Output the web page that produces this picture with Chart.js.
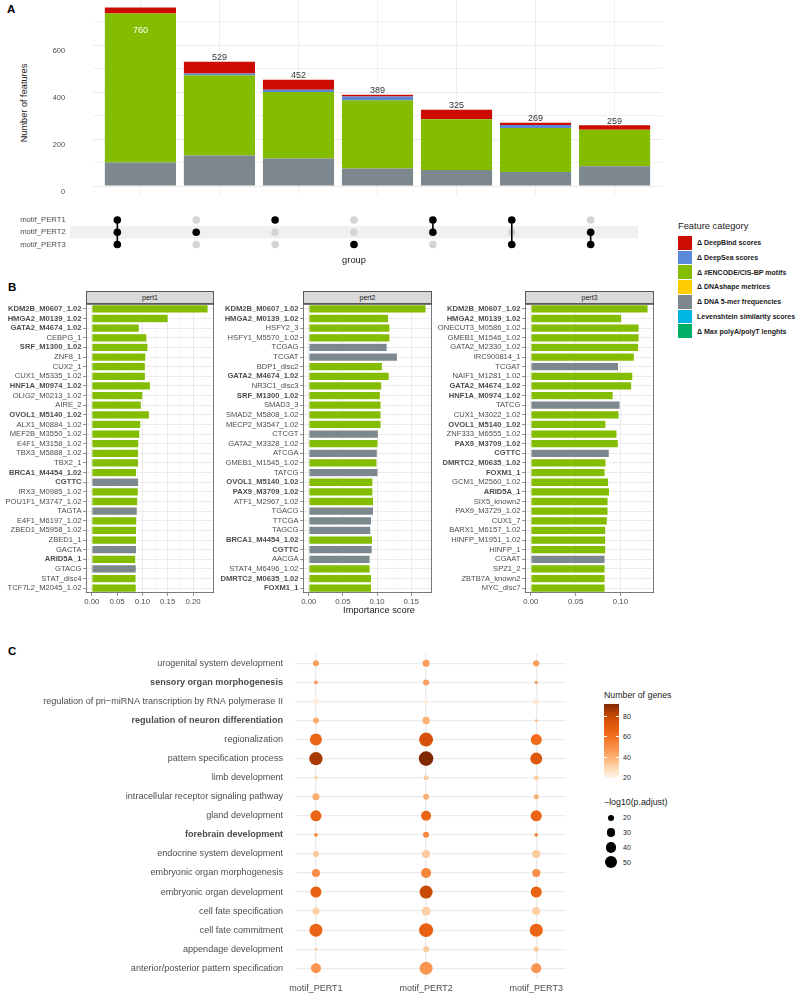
<!DOCTYPE html>
<html><head><meta charset="utf-8">
<script src="https://cdn.jsdelivr.net/npm/chart.js@4"></script>
<style>
body{margin:0;background:#fff;width:798px;height:995px;position:relative;overflow:hidden;font-family:"Liberation Sans",Arial,Helvetica,sans-serif;}
canvas{position:absolute;}
.t{position:absolute;white-space:nowrap;line-height:1;}
.strip{position:absolute;height:13px;background:#d9d9d9;border:0.8px solid #595959;box-sizing:border-box;font-size:7px;color:#1a1a1a;text-align:center;line-height:12px;}
</style></head><body>

<div class="t" style="left:7px;top:4px;font-size:11.5px;font-weight:bold;color:#000">A</div>
<div class="t" style="left:8px;top:282px;font-size:11.5px;font-weight:bold;color:#000">B</div>
<div class="t" style="left:8px;top:646px;font-size:11.5px;font-weight:bold;color:#000">C</div>

<div class="t" style="left:25px;top:102.5px;font-size:9.2px;color:#1a1a1a;transform:translate(-50%,-50%) rotate(-90deg);">Number of features</div>

<canvas id="cA" width="670" height="204" style="left:0;top:-4px"></canvas>
<canvas id="cM" width="660" height="62" style="left:0;top:206px"></canvas>
<div id="legA"></div>

<div class="strip" style="left:86px;top:291px;width:128px;">pert1</div>
<div class="strip" style="left:303px;top:291px;width:129px;">pert2</div>
<div class="strip" style="left:525px;top:291px;width:129px;">pert3</div>
<canvas id="cB1" width="220" height="310" style="left:0;top:298px"></canvas>
<canvas id="cB2" width="222" height="310" style="left:216px;top:298px"></canvas>
<canvas id="cB3" width="224" height="310" style="left:436px;top:298px"></canvas>
<div class="t" style="left:379px;top:611px;font-size:9.3px;color:#1a1a1a;transform:translate(-50%,-50%);">Importance score</div>

<canvas id="cC" width="580" height="355" style="left:0;top:640px"></canvas>
<div id="legC"></div>

<script>
// ---------------- DATA ----------------
// Panel A: intersections of feature sets
const setNames = ['motif_PERT1', 'motif_PERT2', 'motif_PERT3'];
const intersectionIds = [1, 2, 3, 4, 5, 6, 7];
const membership = [[1,1,1],[0,1,0],[1,0,0],[0,0,1],[1,1,0],[1,0,1],[0,1,1]];
const intersectionTotals = [760, 529, 452, 389, 325, 269, 259];
const featureCategories = ['Δ DeepBind scores','Δ DeepSea scores','Δ #ENCODE/CIS-BP motifs','Δ DNAshape metrices','Δ DNA 5-mer frequencies','Levenshtein similarity scores','Δ Max polyA/polyT lenghts'];
const categoryColors = ['#CC0C00','#5C88DA','#84BD00','#FFCD00','#7C878E','#00B5E2','#00AF66'];
const deepBind    = [26, 50, 42, 8, 41, 9, 19];
const deepSea     = [0, 7, 10, 16, 0, 13, 0];
const encodeMotif = [634, 342, 283, 290, 216, 187, 156];
const dnaShape    = [0, 0, 0, 0, 0, 0, 0];
const kmerFreq    = [100, 130, 117, 75, 66, 60, 84];
const levenshtein = [0, 0, 0, 0, 2, 0, 0];
const polyAT      = [0, 0, 0, 0, 0, 0, 0];
const yTicksA = [0, 100, 200, 300, 400, 500, 600, 700];

// Panel B: importance scores (E = ENCODE/CIS-BP motif, K = DNA 5-mer)
const pert1Labels = ['KDM2B_M0607_1.02','HMGA2_M0139_1.02','GATA2_M4674_1.02','CEBPG_1','SRF_M1300_1.02','ZNF8_1','CUX2_1','CUX1_M5335_1.02','HNF1A_M0974_1.02','OLIG2_M0213_1.02','AIRE_2','OVOL1_M5140_1.02','ALX1_M0884_1.02','MEF2B_M3550_1.02','E4F1_M3158_1.02','TBX3_M5888_1.02','TBX2_1','BRCA1_M4454_1.02','CGTTC','IRX3_M0985_1.02','POU1F1_M3747_1.02','TAGTA','E4F1_M6197_1.02','ZBED1_M5958_1.02','ZBED1_1','GACTA','ARID5A_1','GTACG','STAT_disc4','TCF7L2_M2045_1.02'];
const pert1Scores = [0.230,0.151,0.094,0.109,0.111,0.107,0.106,0.106,0.116,0.101,0.098,0.114,0.097,0.095,0.093,0.0925,0.0925,0.0885,0.0925,0.092,0.091,0.090,0.089,0.0885,0.0885,0.0885,0.087,0.088,0.0875,0.088];
const pert1Kinds  = ['E','E','E','E','E','E','E','E','E','E','E','E','E','E','E','E','E','E','K','E','E','K','E','E','E','K','E','K','E','E'];

const pert2Labels = ['KDM2B_M0607_1.02','HMGA2_M0139_1.02','HSFY2_3','HSFY1_M5570_1.02','TCGAG','TCGAT','BDP1_disc2','GATA2_M4674_1.02','NR3C1_disc3','SRF_M1300_1.02','SMAD3_3','SMAD2_M5808_1.02','MECP2_M3547_1.02','CTCGT','GATA2_M3328_1.02','ATCGA','GMEB1_M1545_1.02','TATCG','OVOL1_M5140_1.02','PAX9_M3709_1.02','ATF1_M2967_1.02','TGACG','TTCGA','TAGCG','BRCA1_M4454_1.02','CGTTC','AACGA','STAT4_M6496_1.02','DMRTC2_M0635_1.02','FOXM1_1'];
const pert2Scores = [0.172,0.117,0.119,0.119,0.115,0.130,0.108,0.118,0.107,0.105,0.106,0.106,0.106,0.102,0.1015,0.1005,0.100,0.1015,0.094,0.094,0.095,0.095,0.092,0.091,0.0935,0.093,0.090,0.090,0.092,0.092];
const pert2Kinds  = ['E','E','E','E','K','K','E','E','E','E','E','E','E','K','E','K','E','K','E','E','E','K','K','K','E','K','K','E','E','E'];

const pert3Labels = ['KDM2B_M0607_1.02','HMGA2_M0139_1.02','ONECUT3_M0586_1.02','GMEB1_M1546_1.02','GATA2_M2330_1.02','IRC900814_1','TCGAT','NAIF1_M1281_1.02','GATA2_M4674_1.02','HNF1A_M0974_1.02','TATCG','CUX1_M3022_1.02','OVOL1_M5140_1.02','ZNF333_M6555_1.02','PAX9_M3709_1.02','CGTTC','DMRTC2_M0635_1.02','FOXM1_1','GCM1_M2560_1.02','ARID5A_1','SIX5_known2','PAX9_M3729_1.02','CUX1_7','BARX1_M6157_1.02','HINFP_M1951_1.02','HINFP_1','CGAAT','SPZ1_2','ZBTB7A_known2','MYC_disc7'];
const pert3Scores = [0.131,0.1016,0.121,0.121,0.1205,0.1157,0.098,0.114,0.1127,0.092,0.0997,0.0986,0.084,0.0963,0.0978,0.0877,0.084,0.083,0.087,0.088,0.0863,0.0863,0.0855,0.0837,0.0837,0.0837,0.083,0.083,0.083,0.083];
const pert3Kinds  = ['E','E','E','E','E','E','K','E','E','E','K','E','E','E','E','K','E','E','E','E','E','E','E','E','E','E','K','E','E','E'];

const sharedFeatures = ['KDM2B_M0607_1.02','HMGA2_M0139_1.02','GATA2_M4674_1.02','SRF_M1300_1.02','HNF1A_M0974_1.02','OVOL1_M5140_1.02','BRCA1_M4454_1.02','CGTTC','ARID5A_1','PAX9_M3709_1.02','DMRTC2_M0635_1.02','FOXM1_1'];
const importanceTicks = [0, 0.025, 0.05, 0.075, 0.1, 0.125, 0.15, 0.175, 0.2, 0.225];

// Panel C: GO enrichment
const goTerms = ['urogenital system development','sensory organ morphogenesis','regulation of pri−miRNA transcription by RNA polymerase II','regulation of neuron differentiation','regionalization','pattern specification process','limb development','intracellular receptor signaling pathway','gland development','forebrain development','endocrine system development','embryonic organ morphogenesis','embryonic organ development','cell fate specification','cell fate commitment','appendage development','anterior/posterior pattern specification'];
const boldTerms = ['sensory organ morphogenesis','regulation of neuron differentiation','forebrain development'];
const genesPERT1 = [45,45,22,40,65,85,32,40,65,52,33,50,67,32,65,33,48];
const genesPERT2 = [45,45,22,40,75,91,32,40,65,52,33,53,80,32,67,33,48];
const genesPERT3 = [45,45,23,40,62,72,32,40,65,52,33,50,66,32,65,33,48];
const logPadjPERT1 = [20,14,20,20,50,60,13,24,44,14,20,28,44,24,57,12,38];
const logPadjPERT2 = [24,20,17,25,64,69,17,20,38,20,28,38,57,32,64,20,57];
const logPadjPERT3 = [21,13,20,12,44,50,17,17,44,14,28,28,44,28,57,17,38];
const geneColorTicks = [20, 40, 60, 80];
const geneColorLimits = [20, 91.5];
const sizeBreaks = [20, 30, 40, 50];

// ---------------- HELPERS ----------------
const SANS = '"Liberation Sans", Arial, Helvetica, sans-serif';
Chart.defaults.font.family = SANS;
Chart.defaults.animation = false;
Chart.defaults.responsive = false;
Chart.defaults.events = [];
Chart.defaults.plugins.legend.display = false;
Chart.defaults.plugins.tooltip.enabled = false;
const CLEAR = 'rgba(0,0,0,0)';

const gradStops = [[20,[255,245,235]],[30,[253,215,176]],[40,[251,176,114]],[50,[249,142,72]],[60,[242,112,32]],[70,[227,90,11]],[80,[200,74,6]],[91.5,[127,39,4]]];
function colorFor(v){
  if (v <= gradStops[0][0]) return 'rgb('+gradStops[0][1].join(',')+')';
  for (let i=1;i<gradStops.length;i++){
    if (v <= gradStops[i][0]){
      const [a,ca]=gradStops[i-1],[b,cb]=gradStops[i];
      const f=(v-a)/(b-a);
      return 'rgb('+ca.map((c,k)=>Math.round(c+(cb[k]-c)*f)).join(',')+')';
    }
  }
  return 'rgb('+gradStops[gradStops.length-1][1].join(',')+')';
}
function sizeFor(v){ return Math.sqrt(Math.max(1, 0.9*v - 9)); }

// ---------------- PANEL A: stacked bars ----------------
const seriesByCat = [deepBind, deepSea, encodeMotif, dnaShape, kmerFreq, levenshtein, polyAT];
const stackOrder = [6,5,4,3,2,1,0];
const totalsPlugin = {
  id:'totals',
  afterDatasetsDraw(chart){
    const {ctx, scales:{x,y}, chartArea} = chart;
    ctx.save();
    ctx.font = '9px ' + SANS;
    ctx.textAlign = 'center';
    intersectionTotals.forEach((t,i)=>{
      const px = x.getPixelForValue(intersectionIds[i]);
      const py = y.getPixelForValue(t);
      if (py - 12 < chartArea.top){
        ctx.fillStyle = '#ffffff'; ctx.textBaseline = 'middle';
        ctx.fillText(String(t), px, py + 23);
      } else {
        ctx.fillStyle = '#333333'; ctx.textBaseline = 'alphabetic';
        ctx.fillText(String(t), px, py - 1.5);
      }
    });
    ctx.restore();
  }
};
new Chart(document.getElementById('cA'), {
  type:'bar',
  data:{datasets: stackOrder.map(k => ({
    label: featureCategories[k],
    data: seriesByCat[k].map((v,i)=>({x: intersectionIds[i], y: v})),
    backgroundColor: categoryColors[k], borderWidth:0, barPercentage:0.9, categoryPercentage:1
  }))},
  options:{
    layout:{padding:{top:0,right:8,bottom:0,left:0}},
    scales:{
      x:{type:'linear', stacked:true, offset:false, min:0.4, max:7.6,
         afterBuildTicks:s=>{s.ticks = intersectionIds.map(v=>({value:v}));},
         ticks:{display:false}, grid:{offset:false, color:'#efefef', lineWidth:1, drawTicks:false}, border:{display:false},
         afterFit:s=>{s.height=5;}},
      y:{type:'linear', stacked:true, min:-38, max:790,
         afterBuildTicks:s=>{s.ticks = yTicksA.map(v=>({value:v}));},
         ticks:{callback:v=> (v%200===0 ? String(v) : ''), padding:0, labelOffset:6, font:{size:7.4}, color:'#4d4d4d'},
         grid:{color:'#ebebeb', lineWidth:c=> (c.tick && c.tick.value%200===0 ? 1.1 : 0.7), drawTicks:true, tickLength:28, tickColor:CLEAR},
         border:{display:false},
         afterFit:s=>{s.width=93;}}
    }
  },
  plugins:[totalsPlugin]
});

// ---------------- PANEL A: matrix ----------------
const bandPlugin = {
  id:'band',
  beforeDatasetsDraw(chart){
    const {ctx, scales:{y}, chartArea:a} = chart;
    ctx.save(); ctx.fillStyle = '#f0f0f0';
    const y0 = y.getPixelForValue(1.5), y1 = y.getPixelForValue(2.5);
    ctx.fillRect(a.left, Math.min(y0,y1), a.right-a.left, Math.abs(y1-y0));
    ctx.restore();
  }
};
const mDatasets = [];
const blackPts = [], greyPts = [];
membership.forEach((m,i)=>{
  m.forEach((on,r)=>{ (on ? blackPts : greyPts).push({x: intersectionIds[i], y: r+1}); });
  const rows = m.map((on,r)=> on ? r+1 : null).filter(v=>v!==null);
  if (rows.length > 1){
    mDatasets.push({type:'line', data:[{x:intersectionIds[i], y:Math.min(...rows)},{x:intersectionIds[i], y:Math.max(...rows)}],
      borderColor:'#000', borderWidth:1.6, pointRadius:0, order:1, showLine:true});
  }
});
mDatasets.push({data:blackPts, backgroundColor:'#000', pointRadius:3.8, borderWidth:0, order:0});
mDatasets.push({data:greyPts, backgroundColor:'#d4d4d4', pointRadius:3.8, borderWidth:0, order:2});
new Chart(document.getElementById('cM'), {
  type:'scatter',
  data:{datasets:mDatasets},
  options:{
    layout:{padding:{top:7.8,right:22,bottom:0,left:0}},
    scales:{
      x:{type:'linear', min:0.4, max:7.6, afterBuildTicks:s=>{s.ticks = intersectionIds.map(v=>({value:v}));},
         ticks:{display:false}, grid:{display:false}, border:{display:false},
         title:{display:true, text:'group', font:{size:9.3}, color:'#1a1a1a', padding:{top:0,bottom:2.4}},
         afterFit:s=>{s.height=17.3;}},
      y:{type:'linear', reverse:true, min:0.5, max:3.5, afterBuildTicks:s=>{s.ticks=[1,2,3].map(v=>({value:v}));},
         ticks:{callback:v=>setNames[v-1], font:{size:7.7}, color:'#4d4d4d', padding:0},
         grid:{display:true, color:CLEAR, drawTicks:true, tickLength:4.3, tickColor:CLEAR}, border:{display:false}, afterFit:s=>{s.width=70;}}
    }
  },
  plugins:[bandPlugin]
});

// legend A
(function(){
  const L = document.getElementById('legA');
  let h = '<div class="t" style="left:678px;top:221.5px;font-size:9.3px;color:#1a1a1a">Feature category</div>';
  featureCategories.forEach((c,i)=>{
    const top = 235.8 + i*14.75;
    h += '<div style="position:absolute;left:678px;top:'+top+'px;width:14px;height:13.8px;background:'+categoryColors[i]+'"></div>';
    h += '<div class="t" style="left:697px;top:'+(top+3.3)+'px;font-size:7px;font-weight:bold;color:#1a1a1a">'+c+'</div>';
  });
  L.innerHTML = h;
})();

// ---------------- PANEL B ----------------
const panelBorder = {id:'pb', afterDraw(chart){
  const {ctx, chartArea:a} = chart;
  ctx.save(); ctx.strokeStyle='#595959'; ctx.lineWidth=0.8;
  ctx.strokeRect(a.left+0.4, a.top+0.4, a.right-a.left-0.8, a.bottom-a.top-0.8); ctx.restore();
}};
const isMajor = v => Math.abs(Math.round(v/0.05)*0.05 - v) < 1e-6;
function importanceChart(id, labels, values, kinds, axisW, padRight){
  const vmax = Math.max(...values);
  const lo = -0.05*vmax, hi = 1.05*vmax;
  const tv = importanceTicks.filter(v => v <= hi);
  return new Chart(document.getElementById(id), {
    type:'bar',
    data:{labels, datasets:[{data:values,
      backgroundColor: kinds.map(k => k==='K' ? categoryColors[4] : categoryColors[2]),
      borderColor:'rgba(255,255,255,0.45)', borderWidth:0.6, barPercentage:0.88, categoryPercentage:1}]},
    options:{
      indexAxis:'y',
      layout:{padding:{top:0,right:padRight,bottom:0,left:0}},
      scales:{
        x:{type:'linear', min:lo, max:hi, afterBuildTicks:s=>{s.ticks = tv.map(v=>({value:v}));},
           ticks:{autoSkip:false, maxRotation:0, callback:v=> isMajor(v) ? v.toFixed(2) : '', font:{size:7.8}, color:'#4d4d4d', padding:1.5},
           grid:{color:c=> (c.tick && isMajor(c.tick.value)) ? '#e6e6e6' : '#f2f2f2', lineWidth:c=> (c.tick && isMajor(c.tick.value)) ? 0.8 : 0.5,
                 tickLength:3, tickColor:c=> (c.tick && isMajor(c.tick.value)) ? '#4d4d4d' : CLEAR, tickWidth:0.6},
           border:{display:false}, afterFit:s=>{s.height=15;}},
        y:{offset:true, ticks:{autoSkip:false, font:c=>({size:7.6, weight: sharedFeatures.includes(labels[c.index]) ? 'bold' : 'normal'}), color:'#4d4d4d', padding:1.5},
           grid:{offset:false, color:'#e6e6e6', lineWidth:0.8, tickLength:3, tickColor:'#4d4d4d', tickWidth:0.6},
           border:{display:false}, afterFit:s=>{s.width=axisW;}}
      }
    },
    plugins:[panelBorder]
  });
}
importanceChart('cB1', pert1Labels, pert1Scores, pert1Kinds, 86, 6);
importanceChart('cB2', pert2Labels, pert2Scores, pert2Kinds, 87, 6);
importanceChart('cB3', pert3Labels, pert3Scores, pert3Kinds, 89, 6);

// ---------------- PANEL C ----------------
const genesBySet = [genesPERT1, genesPERT2, genesPERT3];
const padjBySet = [logPadjPERT1, logPadjPERT2, logPadjPERT3];
new Chart(document.getElementById('cC'), {
  type:'bubble',
  data:{datasets: setNames.map((s,si)=>({
    label:s,
    data: goTerms.map((t,ti)=>({x:si+1, y:ti+1, r:sizeFor(padjBySet[si][ti])})),
    backgroundColor: goTerms.map((t,ti)=> colorFor(genesBySet[si][ti])),
    borderWidth:0
  }))},
  options:{
    layout:{padding:{top:13.8,right:14,bottom:0,left:0}},
    scales:{
      x:{type:'linear', min:0.81, max:3.27, afterBuildTicks:s=>{s.ticks=[1,2,3].map(v=>({value:v}));},
         ticks:{callback:v=>setNames[v-1], font:{size:9}, color:'#4d4d4d', padding:5, autoSkip:false, maxRotation:0},
         grid:{color:'#ebebeb', lineWidth:1.3, drawTicks:false}, border:{display:false}, afterFit:s=>{s.height=17.2;}},
      y:{type:'linear', reverse:true, min:0.5, max:17.5, afterBuildTicks:s=>{s.ticks=goTerms.map((t,i)=>({value:i+1}));},
         ticks:{callback:v=>goTerms[v-1], autoSkip:false, padding:0, color:'#4d4d4d',
                font:c=>({size:9.1, weight: boldTerms.includes(goTerms[c.index]) ? 'bold' : 'normal'})},
         grid:{color:'#ebebeb', lineWidth:1.3, drawTicks:true, tickLength:12, tickColor:CLEAR}, border:{display:false}, afterFit:s=>{s.width=295;}}
    }
  }
});

// legend C
(function(){
  const L = document.getElementById('legC');
  const top = 704.3, bottom = 777.7, left = 604, w = 14.7;
  const [lo, hi] = geneColorLimits;
  const stops = [];
  for (let v = lo; v <= hi + 0.001; v += 2.5){ stops.push(colorFor(v) + ' ' + ((v-lo)/(hi-lo)*100).toFixed(1) + '%'); }
  let h = '<div class="t" style="left:604px;top:691px;font-size:8.8px;color:#1a1a1a">Number of genes</div>';
  h += '<div style="position:absolute;left:'+left+'px;top:'+top+'px;width:'+w+'px;height:'+(bottom-top)+'px;background:linear-gradient(to top,'+stops.join(',')+')"></div>';
  geneColorTicks.forEach(v=>{
    const y = bottom - (v-lo)/(hi-lo)*(bottom-top);
    h += '<div style="position:absolute;left:'+left+'px;top:'+(y-0.4)+'px;width:3px;height:0.8px;background:#fff"></div>';
    h += '<div style="position:absolute;left:'+(left+w-3)+'px;top:'+(y-0.4)+'px;width:3px;height:0.8px;background:#fff"></div>';
    h += '<div class="t" style="left:623px;top:'+(y-3.5)+'px;font-size:7px;color:#1a1a1a">'+v+'</div>';
  });
  h += '<div class="t" style="left:604px;top:797.5px;font-size:8.8px;color:#1a1a1a">−log10(p.adjust)</div>';
  sizeBreaks.forEach((v,i)=>{
    const cy = 817.7 + i*14.9, r = sizeFor(v);
    h += '<div style="position:absolute;left:'+(611-r)+'px;top:'+(cy-r)+'px;width:'+(2*r)+'px;height:'+(2*r)+'px;border-radius:50%;background:#000"></div>';
    h += '<div class="t" style="left:623px;top:'+(cy-3.5)+'px;font-size:7px;color:#1a1a1a">'+v+'</div>';
  });
  L.innerHTML = h;
})();
</script>
</body></html>
